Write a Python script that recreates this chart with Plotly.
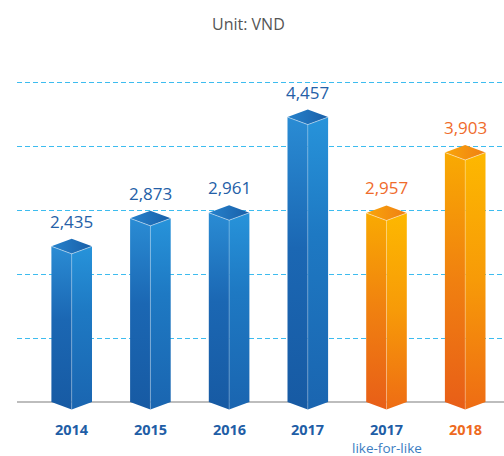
import plotly.graph_objects as go

# ---- data ----
categories = ["2014", "2015", "2016", "2017", "2017", "2018"]
sublabels = ["", "", "", "", "like-for-like", ""]
values = [2435, 2873, 2961, 4457, 2957, 3903]
value_labels = ["2,435", "2,873", "2,961", "4,457", "2,957", "3,903"]
series_kind = ["blue", "blue", "blue", "blue", "orange", "orange"]
grid_vals = [1000, 2000, 3000, 4000, 5000]

# ---- styling ----
palette = {
    "blue": {
        "left": [[0, "#175aa3"], [0.55, "#1b67b3"], [1, "#2a8cd4"]],
        "right": [[0, "#1a65b0"], [0.6, "#1e79c3"], [1, "#2793da"]],
        "top": [[0, "#2682cc"], [1, "#195fa8"]],
        "label": "#2460a7",
    },
    "orange": {
        "left": [[0, "#e85e18"], [0.5, "#f08010"], [1, "#f9aa02"]],
        "right": [[0, "#ee6c14"], [0.5, "#f79a08"], [1, "#fdb800"]],
        "top": [[0, "#f9a60a"], [1, "#ef7f14"]],
        "label": "#ef6b2b",
    },
}
cat_colors = ["#1f5ea6", "#1f5ea6", "#1f5ea6", "#1f5ea6", "#1f5ea6", "#ee6a1e"]

px_per_unit = 319.6 / 5000.0
d = 7.5 / px_per_unit          # depth of the diamond in data units
hw = 0.258                     # half bar width in category units

fig = go.Figure()

for i, (v, kind) in enumerate(zip(values, series_kind)):
    c = i
    pal = palette[kind]
    L, R = c - hw, c + hw
    fig.add_trace(go.Scatter(
        x=[L, c, c, L, L], y=[v, v - d, -d, 0, v],
        fill="toself", mode="lines", line=dict(width=0),
        fillgradient=dict(type="vertical", colorscale=pal["left"]),
        hoverinfo="skip", showlegend=False))
    fig.add_trace(go.Scatter(
        x=[c, R, R, c, c], y=[v - d, v, 0, -d, v - d],
        fill="toself", mode="lines", line=dict(width=0),
        fillgradient=dict(type="vertical", colorscale=pal["right"]),
        hoverinfo="skip", showlegend=False))
    fig.add_trace(go.Scatter(
        x=[L, c, R, c, L], y=[v, v - d, v, v + d, v],
        fill="toself", mode="lines", line=dict(width=0),
        fillgradient=dict(type="horizontal", colorscale=pal["top"]),
        hoverinfo="skip", showlegend=False))
    fig.add_trace(go.Scatter(
        x=[L, c, R], y=[v, v - d, v], mode="lines",
        line=dict(width=1, color="rgba(255,255,255,0.45)"),
        hoverinfo="skip", showlegend=False))
    fig.add_trace(go.Scatter(
        x=[c, c], y=[v - d, -d], mode="lines",
        line=dict(width=1, color="rgba(255,255,255,0.25)"),
        hoverinfo="skip", showlegend=False))

    fig.add_annotation(x=c, y=v, yshift=25, text=value_labels[i], showarrow=False,
                       font=dict(family="Open Sans", size=17, color=pal["label"]),
                       yanchor="middle", xanchor="center")
    fig.add_annotation(x=c, y=0, yshift=-27, text="<b>" + categories[i] + "</b>",
                       showarrow=False, yanchor="middle", xanchor="center",
                       font=dict(family="Open Sans", size=14.5, color=cat_colors[i]))
    if sublabels[i]:
        fig.add_annotation(x=c, y=0, yshift=-46, text=sublabels[i], showarrow=False,
                           yanchor="middle", xanchor="center",
                           font=dict(family="Open Sans", size=13.5, color="#3b7dc2"))

fig.add_annotation(xref="paper", yref="paper", x=(248 - 17) / (504 - 17), y=1, yshift=-24,
                   text="Unit: VND", showarrow=False, yanchor="middle",
                   font=dict(family="Open Sans", size=16, color="#555555"))

y_bottom = -(456 - 402) / px_per_unit
y_top = 402 / px_per_unit
x_left = (17 - 71.7) / 78.7
x_right = (504 - 71.7) / 78.7

fig.update_layout(
    width=504, height=456,
    margin=dict(l=17, r=0, t=0, b=0),
    paper_bgcolor="white", plot_bgcolor="white",
    xaxis=dict(range=[x_left, x_right], showgrid=False, zeroline=False,
               showticklabels=False, fixedrange=True),
    yaxis=dict(range=[y_bottom, y_top], tickvals=grid_vals, showticklabels=False,
               showgrid=True, gridcolor="#3dbcef", gridwidth=1.4, griddash="5px,3px",
               zeroline=True, zerolinecolor="#bdbdbd", zerolinewidth=2, fixedrange=True),
)

fig.write_html("out.html", config={"displayModeBar": False},
               post_script="document.body.style.margin='0';")
